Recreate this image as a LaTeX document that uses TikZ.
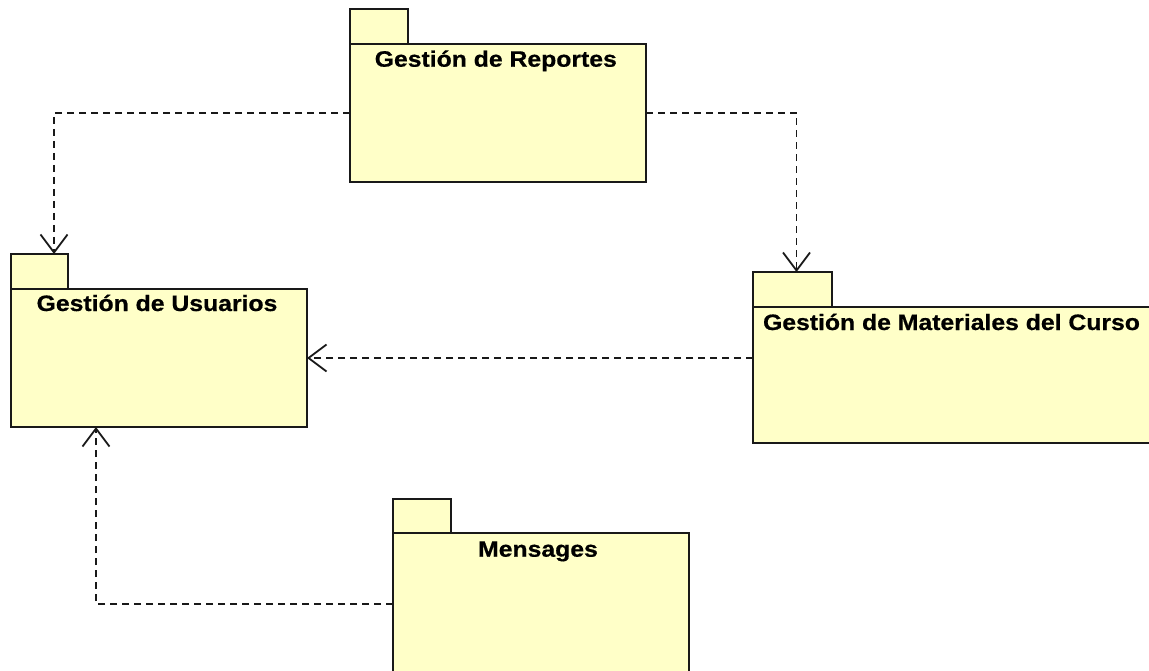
\documentclass[tikz,border=0pt]{standalone}
\usepackage{fontspec}
\newfontfamily\titlefont[FakeStretch=1.11,FakeBold=0.6]{Liberation Sans}
\usetikzlibrary{arrows.meta}
\definecolor{pkgfill}{HTML}{FFFFC8}
\begin{document}
\begin{tikzpicture}[x=1pt,y=-1pt,
  pkg/.style={draw=black!90, line width=2pt, fill=pkgfill, inner sep=0pt, outer sep=0pt, anchor=north west},
  ttl/.style={font=\titlefont\bfseries\fontsize{22.3}{26}\selectfont, anchor=base, text=black, inner sep=0pt},
  dep/.style={draw=black!90, line width=1.8pt, dash pattern=on 7pt off 5pt, -{Straight Barb[length=18pt,width=27pt,line width=1.8pt]}}]
\useasboundingbox[fill=white] (0,0) rectangle (1149,671);
% Gestion de Reportes
\node[pkg, minimum width=58pt, minimum height=35pt] (reptab) at (350,9) {};
\node[pkg, minimum width=296pt, minimum height=138pt] (rep) at (350,44) {};
\node[ttl] (reptitle) at (495.8,66.7) {Gestión de Reportes};
% Gestion de Usuarios
\node[pkg, minimum width=57pt, minimum height=35pt] (usutab) at (11,254) {};
\node[pkg, minimum width=296pt, minimum height=138pt] (usu) at (11,289) {};
\node[ttl] (usutitle) at (157,311) {Gestión de Usuarios};
% Gestion de Materiales del Curso
\node[pkg, minimum width=79pt, minimum height=35pt] (mattab) at (753,272) {};
\node[pkg, minimum width=397pt, minimum height=136pt] (mat) at (753,307) {};
\node[ttl] (mattitle) at (951.5,330) {Gestión de Materiales del Curso};
% Mensages
\node[pkg, minimum width=58pt, minimum height=34pt] (mentab) at (393,499) {};
\node[pkg, minimum width=296pt, minimum height=150pt] (men) at (393,533) {};
\node[ttl] (mentitle) at (538,556.7) {Mensages};
% dependencies
\draw[dep] (rep.west) -| ([xshift=14.5pt]usutab.north);
\draw[dep] (rep.east) -| ([xshift=4pt]mattab.north);
\draw[dep] (mat.west |- usu.east) -- (usu.east);
\draw[dep] ([yshift=-71pt]men.north west) -| ([xshift=85pt]usu.south west);
\end{tikzpicture}
\end{document}
